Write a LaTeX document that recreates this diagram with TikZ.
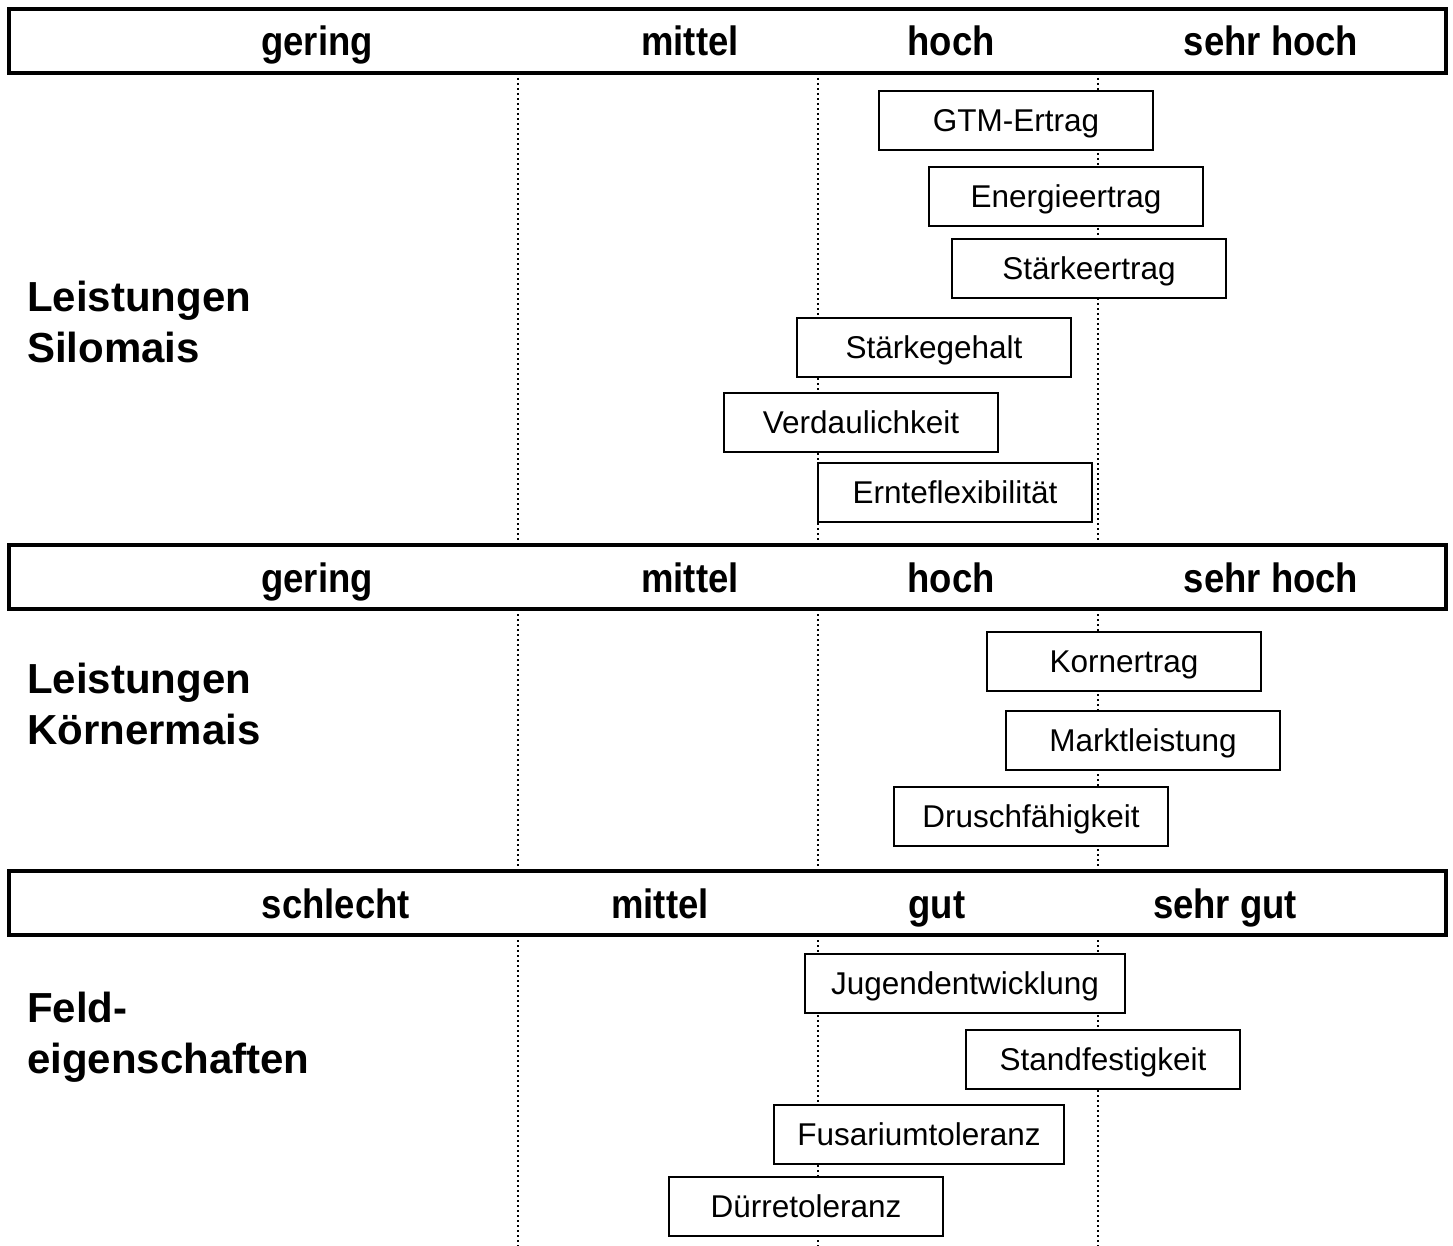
\documentclass[tikz,border=0pt]{standalone}
\usepackage{fontspec}
\setmainfont{Liberation Sans}
\begin{document}
\begin{tikzpicture}[x=1pt,y=-1pt,
 hdrbox/.style={draw,line width=4pt,minimum width=1437pt,minimum height=64pt,inner sep=0},
 hdrtxt/.style={anchor=base,inner sep=0,font=\fontsize{41}{49}\selectfont\bfseries},
 ratebox/.style={draw,line width=2pt,fill=white,minimum height=59pt,minimum width=274pt,inner sep=0,font=\fontsize{31.5}{38}\selectfont,text height=22.5pt,text depth=0pt},
 rowtxt/.style={anchor=north west,align=left,inner sep=0,font=\fontsize{42}{51}\selectfont\bfseries},
 gridline/.style={line width=2pt,dash pattern=on 2pt off 3pt}]
\useasboundingbox (0,0) rectangle (1453,1246);
% grid lines
\foreach \gx [count=\i] in {518,818,1098}{
  \coordinate (a\i t) at (\gx,78);  \coordinate (a\i b) at (\gx,541);
  \coordinate (b\i t) at (\gx,614); \coordinate (b\i b) at (\gx,867);
  \coordinate (c\i t) at (\gx,940); \coordinate (c\i b) at (\gx,1246);
  \draw[gridline] (a\i t) -- (a\i b);
  \draw[gridline] (b\i t) -- (b\i b);
  \draw[gridline] (c\i t) -- (c\i b);
}
% header bars
\node[hdrbox] (h1) at (727.5,41) {};
\node[hdrbox] (h2) at (727.5,577) {};
\node[hdrbox] (h3) at (727.5,903) {};
\newcommand{\cond}[1]{\scalebox{0.89}[1]{#1}}
\node[hdrtxt] (h1a) at (317,56) {\cond{gering}};
\node[hdrtxt] (h1b) at (690,56) {\cond{mittel}};
\node[hdrtxt] (h1c) at (951,56) {\cond{hoch}};
\node[hdrtxt] (h1d) at (1271,56) {\cond{sehr hoch}};
\node[hdrtxt] (h2a) at (317,592) {\cond{gering}};
\node[hdrtxt] (h2b) at (690,592) {\cond{mittel}};
\node[hdrtxt] (h2c) at (951,592) {\cond{hoch}};
\node[hdrtxt] (h2d) at (1271,592) {\cond{sehr hoch}};
\node[hdrtxt] (h3a) at (336,918) {\cond{schlecht}};
\node[hdrtxt] (h3b) at (660,918) {\cond{mittel}};
\node[hdrtxt] (h3c) at (937,918) {\cond{gut}};
\node[hdrtxt] (h3d) at (1225,918) {\cond{sehr gut}};
% row labels
\node[rowtxt] (r1) at (27,281) {Leistungen\\Silomais};
\node[rowtxt] (r2) at (27,663) {Leistungen\\Körnermais};
\node[rowtxt] (r3) at (27,992) {Feld-\\eigenschaften};
% rating boxes
\node[ratebox] (gtm) at (1016,120.5) {GTM-Ertrag};
\node[ratebox] (ene) at (1066,196.5) {Energieertrag};
\node[ratebox] (ste) at (1089,268.5) {Stärkeertrag};
\node[ratebox] (stg) at (934,347.5) {Stärkegehalt};
\node[ratebox] (ver) at (861,422.5) {Verdaulichkeit};
\node[ratebox] (ern) at (955,492.5) {Ernteflexibilität};
\node[ratebox] (kor) at (1124,661.5) {Kornertrag};
\node[ratebox] (mar) at (1143,740.5) {Marktleistung};
\node[ratebox] (dru) at (1031,816.5) {Druschfähigkeit};
\node[ratebox,minimum width=320pt] (jug) at (965,983.5) {Jugendentwicklung};
\node[ratebox] (sta) at (1103,1059.5) {Standfestigkeit};
\node[ratebox,minimum width=290pt] (fus) at (919,1134.5) {Fusariumtoleranz};
\node[ratebox] (due) at (806,1206.5) {Dürretoleranz};
\end{tikzpicture}
\end{document}
